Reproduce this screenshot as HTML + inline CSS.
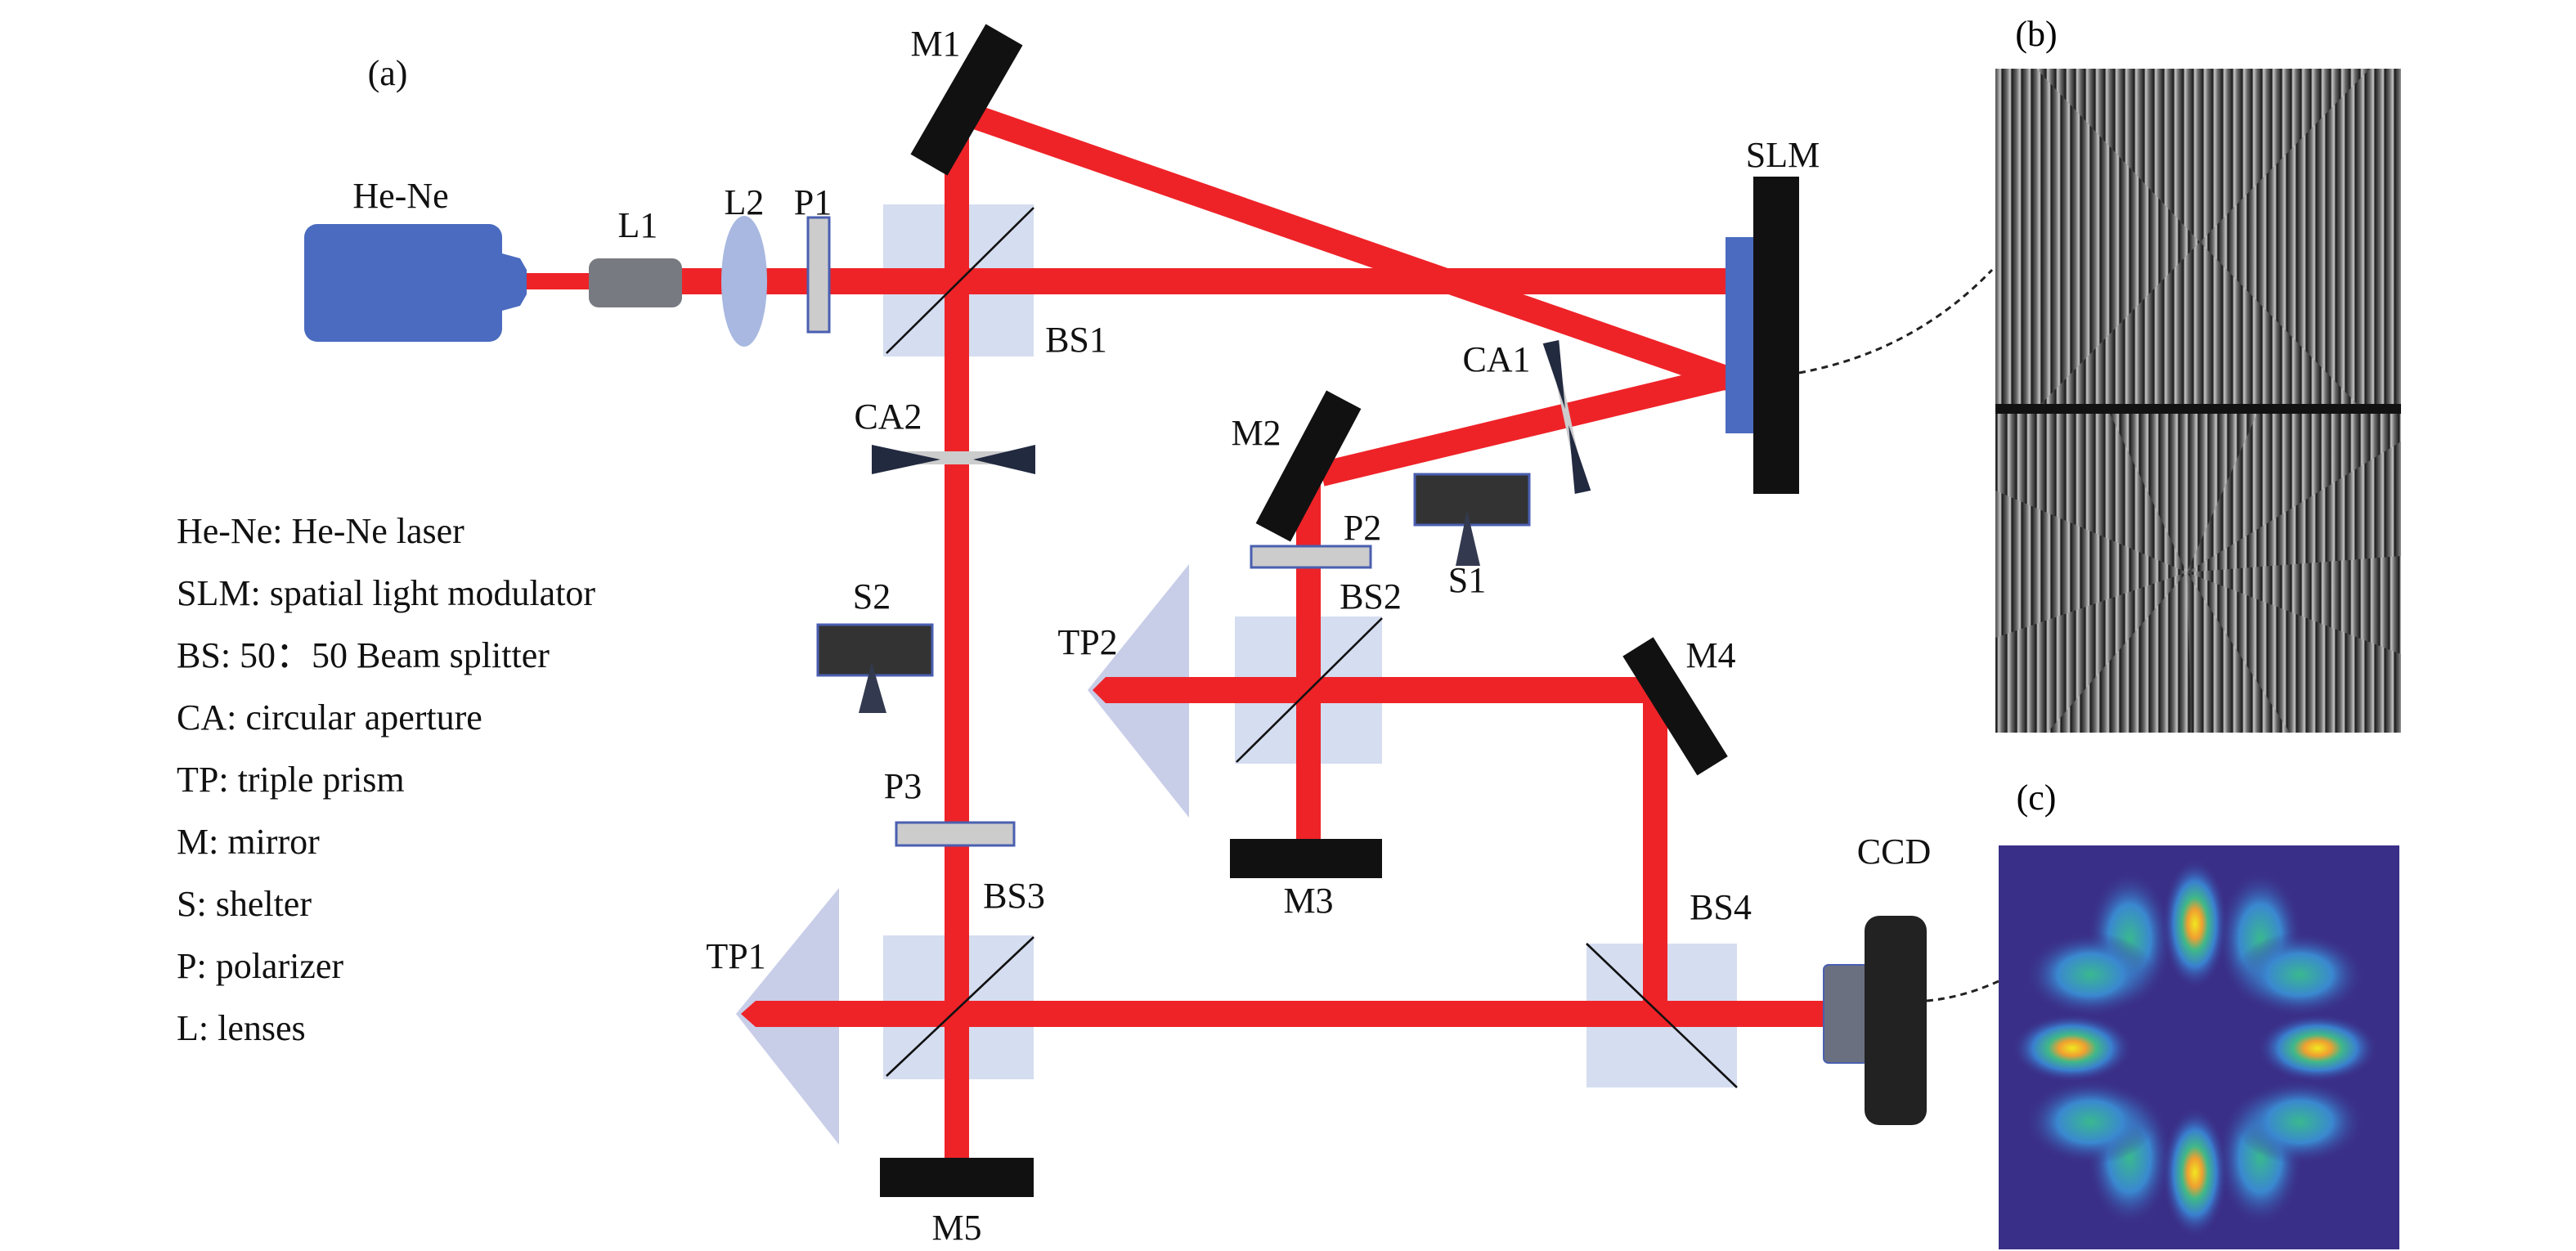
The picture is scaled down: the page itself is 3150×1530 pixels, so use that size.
<!DOCTYPE html>
<html><head><meta charset="utf-8"><style>
html,body{margin:0;padding:0;background:#fff;}
svg{display:block;}
</style></head><body>
<svg width="3150" height="1530" viewBox="0 0 1575 765" xmlns="http://www.w3.org/2000/svg" font-family="'Liberation Serif', serif">
<defs>
<linearGradient id="sg" x1="0" x2="1" y1="0" y2="0">
<stop offset="0" stop-color="#1a1a1a"/><stop offset="0.5" stop-color="#6a6a6a"/><stop offset="0.85" stop-color="#c8c8c8"/><stop offset="1" stop-color="#2a2a2a"/>
</linearGradient>
<linearGradient id="sg2" x1="1" x2="0" y1="0" y2="0">
<stop offset="0" stop-color="#1a1a1a"/><stop offset="0.5" stop-color="#6a6a6a"/><stop offset="0.85" stop-color="#c8c8c8"/><stop offset="1" stop-color="#2a2a2a"/>
</linearGradient>
<pattern id="pA" width="6" height="10" patternUnits="userSpaceOnUse"><rect width="6" height="10" fill="url(#sg)"/></pattern>
<pattern id="pB" width="6" height="10" patternUnits="userSpaceOnUse" patternTransform="translate(3,0)"><rect width="6" height="10" fill="url(#sg2)"/></pattern>
<radialGradient id="hot"><stop offset="0" stop-color="#f0e820"/><stop offset="0.22" stop-color="#f0a030"/><stop offset="0.4" stop-color="#40b888"/><stop offset="0.65" stop-color="#3a80d0"/><stop offset="1" stop-color="#3a2f88" stop-opacity="0"/></radialGradient>
<radialGradient id="warm"><stop offset="0" stop-color="#3ab890"/><stop offset="0.5" stop-color="#3a88d0"/><stop offset="1" stop-color="#3a2f88" stop-opacity="0"/></radialGradient>
<clipPath id="topc"><rect x="1220" y="42" width="248" height="206"/></clipPath>
<clipPath id="botc"><rect x="1220" y="253" width="248" height="195"/></clipPath>
<clipPath id="cc"><rect x="1222" y="517" width="245" height="247"/></clipPath>
</defs>

<!-- panel b -->
<rect x="1220" y="42" width="248" height="406" fill="url(#pA)"/>
<g clip-path="url(#topc)">
<polygon points="1245,42 1449,42 1345,148" fill="url(#pB)"/>
<polygon points="1245,250 1444,250 1345,148" fill="url(#pB)"/>
</g>
<g clip-path="url(#botc)" fill="url(#pB)">
<polygon points="1337,350 1290,253 1220,253 1220,300"/>
<polygon points="1337,350 1220,390 1220,450 1250,450"/>
<polygon points="1337,350 1380,253 1468,253 1468,270"/>
<polygon points="1337,350 1468,340 1468,400"/>
<polygon points="1337,350 1340,448 1400,448"/>
</g>
<rect x="1220" y="247" width="248" height="6" fill="#111"/>
<text x="1245" y="28" font-size="22" text-anchor="middle">(b)</text>

<!-- panel c -->
<rect x="1222" y="517" width="245" height="247" fill="#3a2f88"/>
<g clip-path="url(#cc)">
<g fill="url(#warm)">
<ellipse cx="1302" cy="574" rx="26" ry="42"/><ellipse cx="1278" cy="596" rx="40" ry="26"/>
<ellipse cx="1382" cy="574" rx="26" ry="42"/><ellipse cx="1406" cy="596" rx="40" ry="26"/>
<ellipse cx="1302" cy="708" rx="26" ry="42"/><ellipse cx="1278" cy="686" rx="40" ry="26"/>
<ellipse cx="1382" cy="708" rx="26" ry="42"/><ellipse cx="1406" cy="686" rx="40" ry="26"/>
</g>
<ellipse cx="1342" cy="565" rx="20" ry="40" fill="url(#hot)"/>
<ellipse cx="1342" cy="717" rx="20" ry="40" fill="url(#hot)"/>
<ellipse cx="1267" cy="641" rx="37" ry="21" fill="url(#hot)"/>
<ellipse cx="1417" cy="641" rx="37" ry="21" fill="url(#hot)"/>
</g>
<text x="1245" y="495" font-size="22" text-anchor="middle">(c)</text>

<!-- dashed links -->
<path d="M1100,228 Q1170,215 1218,165" fill="none" stroke="#222" stroke-width="1.5" stroke-dasharray="4,3"/>
<path d="M1178,612 Q1200,610 1222,600" fill="none" stroke="#222" stroke-width="1.5" stroke-dasharray="4,3"/>

<!-- optics boxes -->
<rect x="540" y="125" width="92" height="93" fill="#d5ddf0"/>
<rect x="755" y="377" width="90" height="90" fill="#d5ddf0"/>
<rect x="540" y="572" width="92" height="88" fill="#d5ddf0"/>
<rect x="970" y="577" width="92" height="88" fill="#d5ddf0"/>
<polygon points="665,422 727,345 727,500" fill="#c8cde8"/>
<polygon points="450,620 513,543 513,700" fill="#c8cde8"/>

<!-- beams -->
<g stroke="#ee2328" fill="none" stroke-linecap="butt">
<line x1="320" y1="172" x2="362" y2="172" stroke-width="10"/>
<line x1="415" y1="172" x2="1058" y2="172" stroke-width="16"/>
<line x1="585" y1="72" x2="585" y2="712" stroke-width="15"/>
<line x1="592" y1="70" x2="1058" y2="232" stroke-width="15"/>
<line x1="1058" y1="230" x2="808" y2="290" stroke-width="15"/>
<line x1="800" y1="282" x2="800" y2="515" stroke-width="15"/>
<polygon points="668,422 676,414 1020,414 1020,430 676,430" fill="#ee2328" stroke="none"/>
<line x1="1012" y1="415" x2="1012" y2="620" stroke-width="15"/>
<polygon points="453,620 462,612 1115,612 1115,628 462,628" fill="#ee2328" stroke="none"/>
</g>

<!-- diagonals -->
<g stroke="#111" stroke-width="1.3">
<line x1="542" y1="216" x2="632" y2="127"/>
<line x1="756" y1="466" x2="845" y2="378"/>
<line x1="542" y1="658" x2="632" y2="573"/>
<line x1="970" y1="577" x2="1062" y2="665"/>
</g>

<!-- laser -->
<rect x="186" y="137" width="121" height="72" rx="8" fill="#4a6bbf"/>
<path d="M307,155 L318,158 L322,165 L322,180 L318,187 L307,190 Z" fill="#4a6bbf"/>
<rect x="360" y="158" width="57" height="30" rx="6" fill="#777a80"/>
<ellipse cx="455" cy="172" rx="14" ry="40" fill="#a8b8e0"/>
<rect x="494" y="133" width="13" height="70" fill="#ccc" stroke="#4a5fb0" stroke-width="1.5"/>

<!-- mirrors -->
<rect x="545" y="48" width="92" height="26" fill="#111" transform="rotate(-60 591 61)"/>
<rect x="754" y="273" width="92" height="24" fill="#111" transform="rotate(-62 800 285)"/>
<rect x="984" y="418" width="86" height="22" fill="#111" transform="rotate(58 1023 428)"/>
<rect x="752" y="513" width="93" height="24" fill="#111"/>
<rect x="538" y="708" width="94" height="24" fill="#111"/>

<!-- SLM -->
<rect x="1055" y="145" width="18" height="120" fill="#4a6bbf"/>
<rect x="1072" y="108" width="28" height="194" fill="#111"/>

<!-- CA1 -->
<g transform="rotate(-12 958 255)">
<rect x="956" y="208" width="4" height="94" fill="#ccc"/>
<polygon points="953,208 963,208 958,250" fill="#222a40"/>
<polygon points="953,302 963,302 958,260" fill="#222a40"/>
</g>
<!-- CA2 -->
<rect x="533" y="276" width="100" height="8" fill="#ccc"/>
<polygon points="533,272 533,290 575,281" fill="#222a40"/>
<polygon points="633,272 633,290 595,281" fill="#222a40"/>

<!-- P2, P3 -->
<rect x="765" y="334" width="73" height="13" fill="#ccc" stroke="#4a5fb0" stroke-width="1.5"/>
<rect x="548" y="503" width="72" height="14" fill="#ccc" stroke="#4a5fb0" stroke-width="1.5"/>

<!-- shelters -->
<rect x="865" y="290" width="70" height="31" fill="#333" stroke="#4a5fb0" stroke-width="1.5"/>
<polygon points="897,312 890,346 905,346" fill="#333a50"/>
<rect x="500" y="382" width="70" height="31" fill="#333" stroke="#4a5fb0" stroke-width="1.5"/>
<polygon points="533,405 525,436 542,436" fill="#333a50"/>

<!-- CCD -->
<rect x="1115" y="590" width="27" height="60" rx="3" fill="#6a7080" stroke="#4a5fb0" stroke-width="1"/>
<rect x="1140" y="560" width="38" height="128" rx="9" fill="#222"/>

<!-- labels -->
<g font-size="22" text-anchor="middle" fill="#111">
<text x="237" y="52">(a)</text>
<text x="245" y="127">He-Ne</text>
<text x="390" y="145">L1</text>
<text x="455" y="131">L2</text>
<text x="497" y="131">P1</text>
<text x="572" y="34">M1</text>
<text x="1090" y="102">SLM</text>
<text x="658" y="215">BS1</text>
<text x="915" y="227">CA1</text>
<text x="543" y="262">CA2</text>
<text x="768" y="272">M2</text>
<text x="833" y="330">P2</text>
<text x="838" y="372">BS2</text>
<text x="897" y="362">S1</text>
<text x="533" y="372">S2</text>
<text x="665" y="400">TP2</text>
<text x="1046" y="408">M4</text>
<text x="552" y="488">P3</text>
<text x="800" y="558">M3</text>
<text x="620" y="555">BS3</text>
<text x="1052" y="562">BS4</text>
<text x="1158" y="528">CCD</text>
<text x="450" y="592">TP1</text>
<text x="585" y="758">M5</text>
</g>
<g font-size="22" fill="#111">
<text x="108" y="332">He-Ne: He-Ne laser</text>
<text x="108" y="370">SLM: spatial light modulator</text>
<text x="108" y="408">BS: 50：50 Beam splitter</text>
<text x="108" y="446">CA: circular aperture</text>
<text x="108" y="484">TP: triple prism</text>
<text x="108" y="522">M: mirror</text>
<text x="108" y="560">S: shelter</text>
<text x="108" y="598">P: polarizer</text>
<text x="108" y="636">L: lenses</text>
</g>
</svg>
</body></html>
